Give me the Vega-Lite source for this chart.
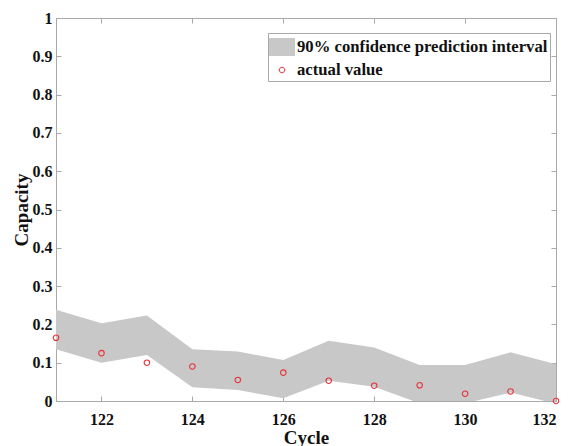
{
  "$schema": "https://vega.github.io/schema/vega-lite/v6.json",
  "autosize": {"type": "none"},
  "width": 500,
  "height": 383,
  "padding": {"left": 56, "top": 18, "right": 13, "bottom": 45},
  "background": "white",
  "config": {
    "view": {"stroke": "#a8a8a8", "strokeWidth": 1},
    "font": "Liberation Serif",
    "axis": {
      "grid": false,
      "domainColor": "#a8a8a8",
      "tickColor": "#a8a8a8",
      "labelFont": "Liberation Serif",
      "labelFontWeight": "bold",
      "labelFontSize": 16,
      "labelColor": "#111111",
      "titleFont": "Liberation Serif",
      "titleFontWeight": "bold",
      "titleFontSize": 19,
      "titleColor": "#111111"
    },
    "legend": {
      "orient": "none",
      "legendX": 212,
      "legendY": 15,
      "padding": 2,
      "strokeColor": "#a8a8a8",
      "fillColor": "white",
      "labelFont": "Liberation Serif",
      "labelFontWeight": "bold",
      "labelFontSize": 16.7,
      "labelColor": "#111111",
      "labelLimit": 0,
      "labelOffset": 3,
      "rowPadding": 0,
      "symbolSize": 529,
      "symbolStrokeWidth": 1,
      "symbolOpacity": 1
    }
  },
  "data": {
    "values": [
      {"cycle": 121, "upper": 0.238, "lower": 0.135, "actual": 0.165},
      {"cycle": 122, "upper": 0.203, "lower": 0.100, "actual": 0.125},
      {"cycle": 123, "upper": 0.223, "lower": 0.120, "actual": 0.100},
      {"cycle": 124, "upper": 0.135, "lower": 0.036, "actual": 0.090},
      {"cycle": 125, "upper": 0.129, "lower": 0.029, "actual": 0.055},
      {"cycle": 126, "upper": 0.107, "lower": 0.007, "actual": 0.074},
      {"cycle": 127, "upper": 0.157, "lower": 0.053, "actual": 0.053},
      {"cycle": 128, "upper": 0.140, "lower": 0.037, "actual": 0.040},
      {"cycle": 129, "upper": 0.094, "lower": -0.006, "actual": 0.041},
      {"cycle": 130, "upper": 0.094, "lower": -0.006, "actual": 0.019},
      {"cycle": 131, "upper": 0.127, "lower": 0.022, "actual": 0.025},
      {"cycle": 132, "upper": 0.096, "lower": -0.007, "actual": 0.0}
    ]
  },
  "layer": [
    {
      "mark": {"type": "area", "clip": true, "opacity": 1},
      "encoding": {
        "x": {
          "field": "cycle", "type": "quantitative",
          "scale": {"domain": [121, 132], "nice": false, "zero": false},
          "axis": {"orient": "bottom", "title": "Cycle", "values": [122, 124, 126, 128, 130, 132], "tickSize": -5, "labelPadding": 15, "titlePadding": 1, "format": "d"}
        },
        "y": {
          "field": "upper", "type": "quantitative",
          "scale": {"domain": [0, 1], "nice": false},
          "axis": {"orient": "left", "title": "Capacity", "values": [0, 0.1, 0.2, 0.3, 0.4, 0.5, 0.6, 0.7, 0.8, 0.9, 1], "format": "~g", "tickSize": -5, "labelPadding": 9, "titlePadding": 1}
        },
        "y2": {"field": "lower"},
        "fill": {
          "datum": "90% confidence prediction interval",
          "scale": {"domain": ["90% confidence prediction interval", "actual value"], "range": ["#c8c8c8", "transparent"]},
          "legend": {"title": null}
        }
      }
    },
    {
      "mark": {"type": "point", "filled": false, "size": 529, "strokeWidth": 1.1, "opacity": 1, "clip": false},
      "encoding": {
        "x": {
          "field": "cycle", "type": "quantitative",
          "axis": {"orient": "top", "title": null, "labels": false, "values": [122, 124, 126, 128, 130, 132], "tickSize": -5, "domain": false}
        },
        "y": {
          "field": "actual", "type": "quantitative",
          "axis": {"orient": "right", "title": null, "labels": false, "values": [0, 0.1, 0.2, 0.3, 0.4, 0.5, 0.6, 0.7, 0.8, 0.9, 1], "tickSize": -5, "domain": false}
        },
        "stroke": {
          "datum": "actual value",
          "scale": {"domain": ["90% confidence prediction interval", "actual value"], "range": ["#c8c8c8", "#e8323a"]},
          "legend": {"title": null}
        },
        "shape": {
          "datum": "actual value",
          "scale": {"domain": ["90% confidence prediction interval", "actual value"], "range": ["M-1.087,-0.74H1.087V0.74H-1.087Z", "M0.239,0A0.239,0.239,0,1,1,-0.239,0A0.239,0.239,0,1,1,0.239,0Z"]},
          "legend": {"title": null}
        }
      }
    }
  ]
}
